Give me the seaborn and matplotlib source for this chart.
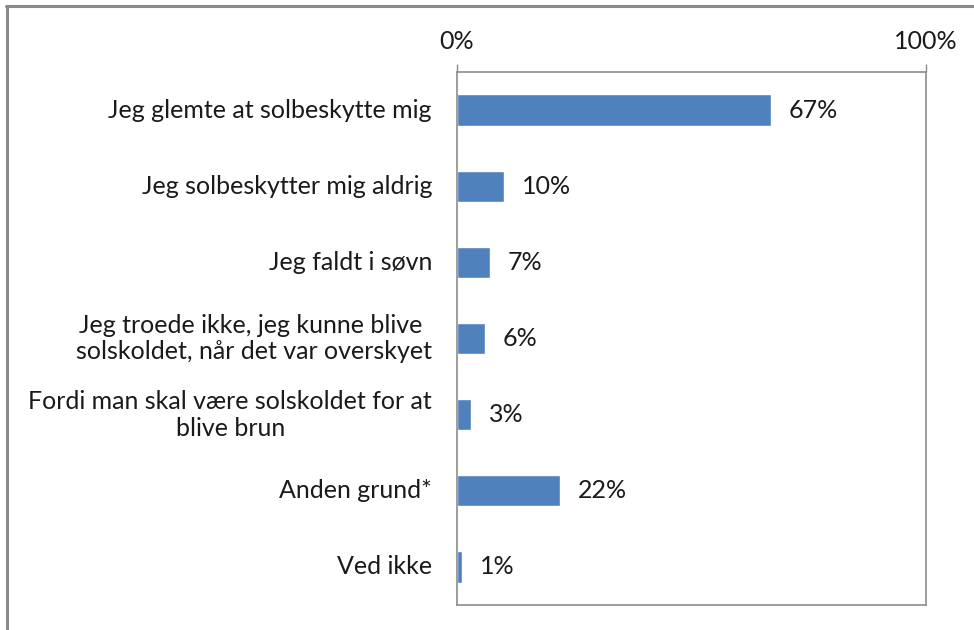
import matplotlib
matplotlib.use("Agg")
import matplotlib.pyplot as plt
import matplotlib.transforms as mtransforms
import seaborn as sns
import pandas as pd
from matplotlib.lines import Line2D

# Data
categories = [
    "Jeg glemte at solbeskytte mig",
    "Jeg solbeskytter mig aldrig",
    "Jeg faldt i søvn",
    "Jeg troede ikke, jeg kunne blive \nsolskoldet, når det var overskyet",
    "Fordi man skal være solskoldet for at\nblive brun",
    "Anden grund*",
    "Ved ikke",
]
values = [67, 10, 7, 6, 3, 22, 1]
x_ticks = [0, 100]
x_tick_labels = ["0%", "100%"]

sns.set_style("white")
plt.rcParams["font.family"] = ["Lato", "DejaVu Sans"]

gray = "#8c8c8c"
bar_color = "#4F81BD"
txt = "#1a1a1a"
fs = 18

df = pd.DataFrame({"kategori": categories, "andel": values})

fig = plt.figure(figsize=(9.74, 6.30), dpi=100)
ax = fig.add_axes([457 / 974, 1 - 605 / 630, (926 - 457) / 974, (605 - 72) / 630])

sns.barplot(data=df, x="andel", y="kategori", orient="h", color=bar_color,
            saturation=1, width=0.41, ax=ax)

ax.set_xlim(0, 100)
ax.set_ylim(6.5, -0.5)
ax.set_xlabel("")
ax.set_ylabel("")

# x-akse øverst
ax.xaxis.tick_top()
ax.set_xticks(x_ticks)
ax.set_xticklabels(x_tick_labels, fontsize=fs, color=txt)
ax.tick_params(axis="x", length=6, width=1, color=gray, pad=8, direction="out")

# kategorier - tegnes som tekst for at få centreret flerlinjet tekst
ax.set_yticks(range(len(categories)))
ax.set_yticklabels([])
ax.tick_params(axis="y", which="major", length=0)
ax.set_yticks([i - 0.5 for i in range(len(categories) + 1)], minor=True)
ax.tick_params(axis="y", which="minor", length=6, width=1, color=gray, direction="out")

lbl_trans = mtransforms.offset_copy(ax.get_yaxis_transform(), fig=fig, x=-25, y=0, units="dots")
for i, c in enumerate(categories):
    ax.text(0, i, c, transform=lbl_trans, ha="right", va="center", multialignment="center",
            linespacing=1.2, fontsize=fs, color=txt)

for s in ax.spines.values():
    s.set_visible(True)
    s.set_color(gray)
    s.set_linewidth(1.2)

# dataetiketter
for i, v in enumerate(values):
    ax.text(v + 3.8, i, f"{v}%", va="center", ha="left", fontsize=fs, color=txt)

# ramme om diagrammet
fig.add_artist(Line2D([6 / 974, 1], [1 - 6 / 630, 1 - 6 / 630], transform=fig.transFigure,
                      color="#8a8a8a", linewidth=2.2))
fig.add_artist(Line2D([7 / 974, 7 / 974], [0, 1 - 6 / 630], transform=fig.transFigure,
                      color="#8a8a8a", linewidth=2.2))

fig.savefig("out.png", dpi=100, facecolor="white")
